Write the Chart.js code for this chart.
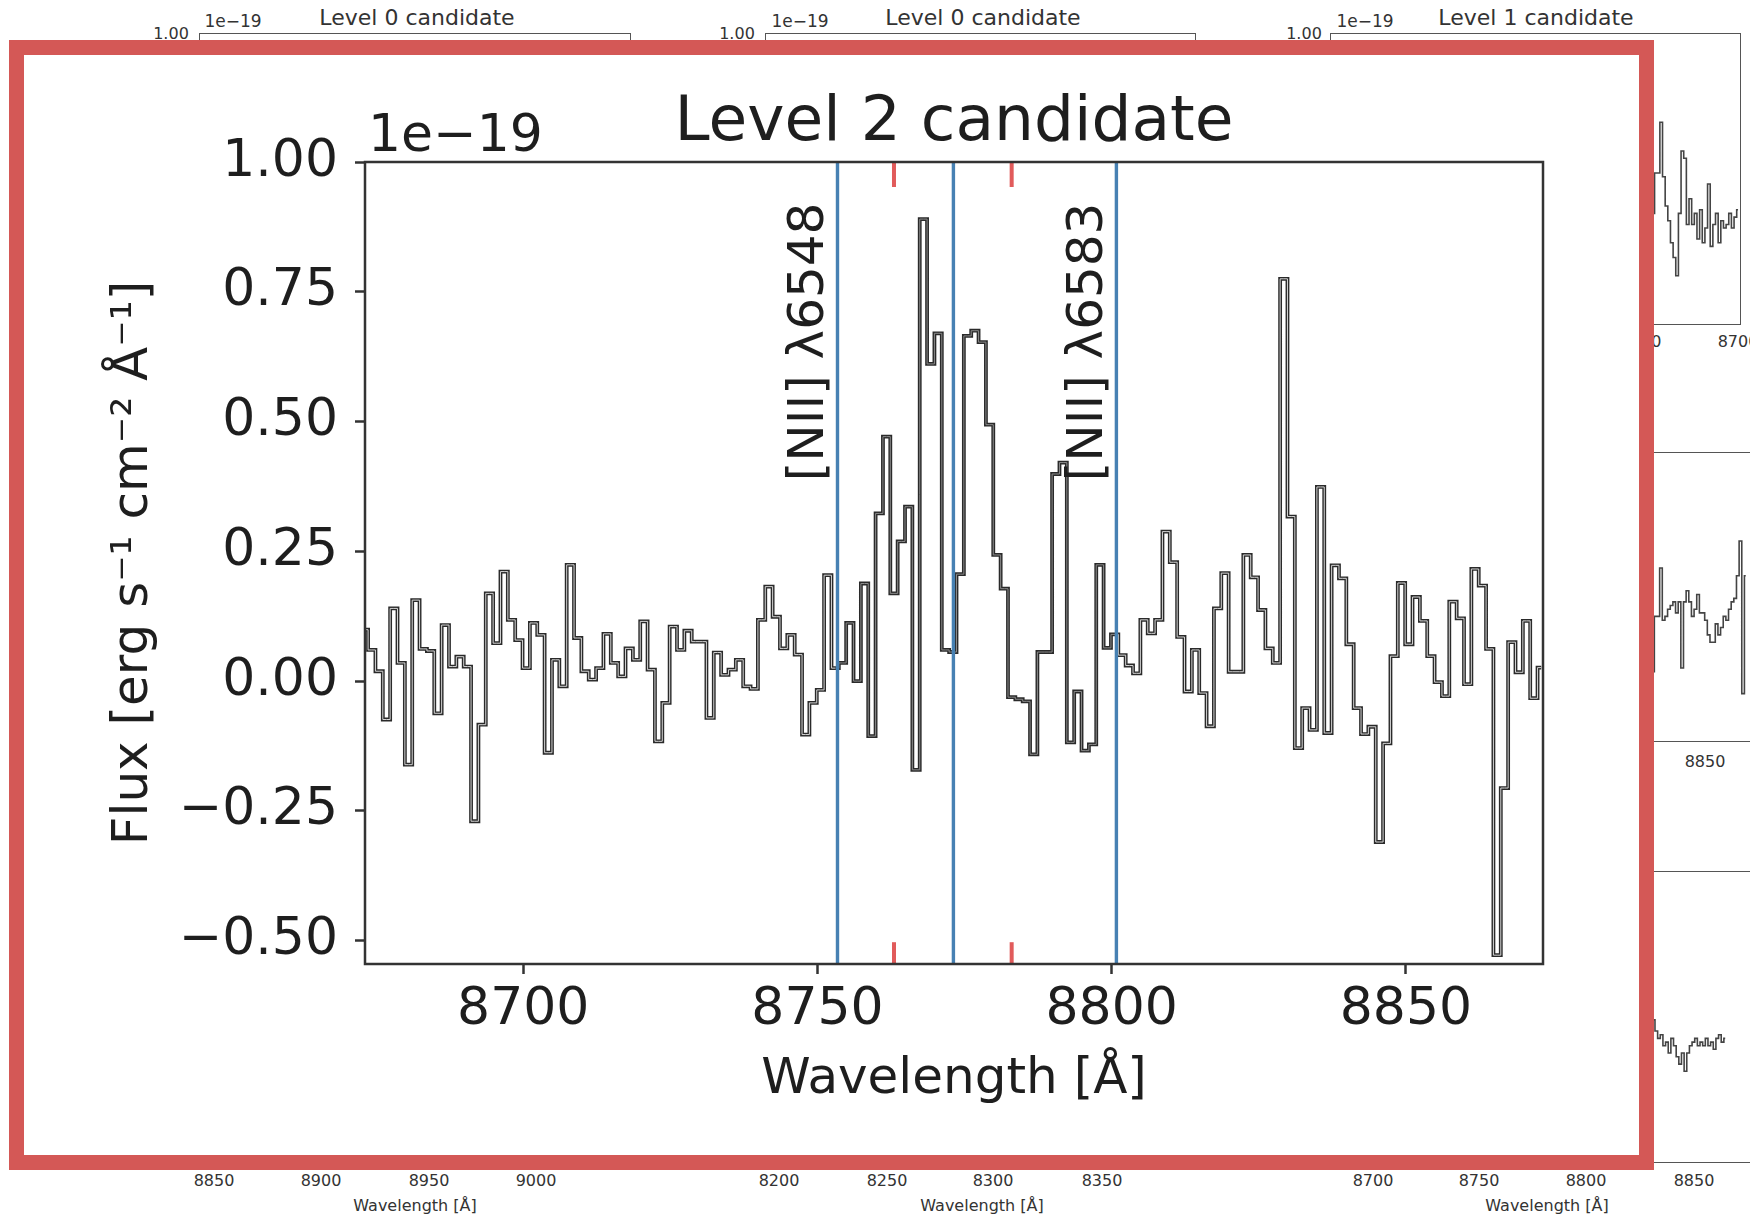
<!DOCTYPE html>
<html>
<head>
<meta charset="utf-8">
<title>Level 2 candidate</title>
<script src="https://cdn.jsdelivr.net/npm/chart.js@4.4.1/dist/chart.umd.min.js"></script>
<style>
  body { margin: 0; width: 1750px; height: 1219px; overflow: hidden; background: #fff;
         position: relative; font-family: "DejaVu Sans", sans-serif; color: #333; }
  .t { position: absolute; white-space: nowrap; transform: translate(-50%, -50%); z-index: 0; }
  .frame { position: absolute; border: 1.5px solid #555; box-sizing: border-box; z-index: 0; }
  .snip { position: absolute; z-index: 0; }
  #box { position: absolute; left: 9px; top: 40px; width: 1645px; height: 1130px;
         border: 15px solid #d45856; box-sizing: border-box; background: #fff; z-index: 1; }
  #c { position: absolute; left: 0; top: 0; z-index: 2; }
</style>
</head>
<body>

<!-- panels of the figure behind the inset -->
<div class="t" style="left:171px;top:33px;font-size:16px">1.00</div>
<div class="t" style="left:233px;top:21px;font-size:17px">1e−19</div>
<div class="t" style="left:417px;top:17px;font-size:22px">Level 0 candidate</div>
<div class="t" style="left:737px;top:33px;font-size:16px">1.00</div>
<div class="t" style="left:800px;top:21px;font-size:17px">1e−19</div>
<div class="t" style="left:983px;top:17px;font-size:22px">Level 0 candidate</div>
<div class="t" style="left:1304px;top:33px;font-size:16px">1.00</div>
<div class="t" style="left:1365px;top:21px;font-size:17px">1e−19</div>
<div class="t" style="left:1536px;top:17px;font-size:22px">Level 1 candidate</div>

<div class="frame" style="left:199px;top:33px;width:432px;height:300px"></div>
<div class="frame" style="left:765px;top:33px;width:431px;height:300px"></div>
<div class="frame" style="left:1330px;top:33px;width:411px;height:292px"></div>
<div class="frame" style="left:1330px;top:452px;width:500px;height:290px"></div>
<div class="frame" style="left:1330px;top:871px;width:500px;height:292px"></div>

<canvas class="snip" id="s1" width="411" height="291" style="left:1330px;top:33px"></canvas>
<canvas class="snip" id="s2" width="500" height="290" style="left:1330px;top:452px"></canvas>
<canvas class="snip" id="s3" width="500" height="292" style="left:1330px;top:871px"></canvas>

<div class="t" style="left:1641px;top:341px;font-size:16px">8650</div>
<div class="t" style="left:1738px;top:341px;font-size:16px">8700</div>
<div class="t" style="left:1705px;top:761px;font-size:16px">8850</div>

<div class="t" style="left:214px;top:1180px;font-size:16px">8850</div>
<div class="t" style="left:321px;top:1180px;font-size:16px">8900</div>
<div class="t" style="left:429px;top:1180px;font-size:16px">8950</div>
<div class="t" style="left:536px;top:1180px;font-size:16px">9000</div>
<div class="t" style="left:415px;top:1205px;font-size:16px">Wavelength [Å]</div>
<div class="t" style="left:779px;top:1180px;font-size:16px">8200</div>
<div class="t" style="left:887px;top:1180px;font-size:16px">8250</div>
<div class="t" style="left:993px;top:1180px;font-size:16px">8300</div>
<div class="t" style="left:1102px;top:1180px;font-size:16px">8350</div>
<div class="t" style="left:982px;top:1205px;font-size:16px">Wavelength [Å]</div>
<div class="t" style="left:1373px;top:1180px;font-size:16px">8700</div>
<div class="t" style="left:1479px;top:1180px;font-size:16px">8750</div>
<div class="t" style="left:1586px;top:1180px;font-size:16px">8800</div>
<div class="t" style="left:1694px;top:1180px;font-size:16px">8850</div>
<div class="t" style="left:1547px;top:1205px;font-size:16px">Wavelength [Å]</div>

<div id="box"></div>
<canvas id="c" width="1750" height="1219"></canvas>

<script>
/* ── main spectrum (flux in units of 1e-19) ── */
const wavelength = [
  8673.00, 8674.25, 8675.50, 8676.75, 8678.00, 8679.25, 8680.50, 8681.75,
  8683.00, 8684.25, 8685.50, 8686.75, 8688.00, 8689.25, 8690.50, 8691.75,
  8693.00, 8694.25, 8695.50, 8696.75, 8698.00, 8699.25, 8700.50, 8701.75,
  8703.00, 8704.25, 8705.50, 8706.75, 8708.00, 8709.25, 8710.50, 8711.75,
  8713.00, 8714.25, 8715.50, 8716.75, 8718.00, 8719.25, 8720.50, 8721.75,
  8723.00, 8724.25, 8725.50, 8726.75, 8728.00, 8729.25, 8730.50, 8731.75,
  8733.00, 8734.25, 8735.50, 8736.75, 8738.00, 8739.25, 8740.50, 8741.75,
  8743.00, 8744.25, 8745.50, 8746.75, 8748.00, 8749.25, 8750.50, 8751.75,
  8753.00, 8754.25, 8755.50, 8756.75, 8758.00, 8759.25, 8760.50, 8761.75,
  8763.00, 8764.25, 8765.50, 8766.75, 8768.00, 8769.25, 8770.50, 8771.75,
  8773.00, 8774.25, 8775.50, 8776.75, 8778.00, 8779.25, 8780.50, 8781.75,
  8783.00, 8784.25, 8785.50, 8786.75, 8788.00, 8789.25, 8790.50, 8791.75,
  8793.00, 8794.25, 8795.50, 8796.75, 8798.00, 8799.25, 8800.50, 8801.75,
  8803.00, 8804.25, 8805.50, 8806.75, 8808.00, 8809.25, 8810.50, 8811.75,
  8813.00, 8814.25, 8815.50, 8816.75, 8818.00, 8819.25, 8820.50, 8821.75,
  8823.00, 8824.25, 8825.50, 8826.75, 8828.00, 8829.25, 8830.50, 8831.75,
  8833.00, 8834.25, 8835.50, 8836.75, 8838.00, 8839.25, 8840.50, 8841.75,
  8843.00, 8844.25, 8845.50, 8846.75, 8848.00, 8849.25, 8850.50, 8851.75,
  8853.00, 8854.25, 8855.50, 8856.75, 8858.00, 8859.25, 8860.50, 8861.75,
  8863.00, 8864.25, 8865.50, 8866.75, 8868.00, 8869.25, 8870.50, 8871.75,
  8873.00
];
const flux = [
   0.099,  0.060,  0.019, -0.074,  0.140,  0.035, -0.161,  0.156,
   0.062,  0.058, -0.062,  0.108,  0.028,  0.047,  0.028, -0.270,
  -0.084,  0.169,  0.073,  0.211,  0.118,  0.079,  0.025,  0.112,
   0.089, -0.138,  0.041, -0.010,  0.224,  0.083,  0.019,  0.003,
   0.025,  0.091,  0.035,  0.009,  0.063,  0.041,  0.115,  0.022,
  -0.116, -0.042,  0.105,  0.060,  0.097,  0.076,  0.076, -0.071,
   0.055,  0.012,  0.022,  0.041, -0.010, -0.015,  0.118,  0.182,
   0.124,  0.063,  0.089,  0.051, -0.103, -0.042, -0.017,  0.204,
   0.025,  0.035,  0.112,  0.000,  0.188, -0.106,  0.323,  0.471,
   0.169,  0.269,  0.336, -0.171,  0.890,  0.611,  0.670,  0.060,
   0.056,  0.206,  0.665,  0.675,  0.653,  0.494,  0.243,  0.178,
  -0.031, -0.035, -0.039, -0.141,  0.056,  0.056,  0.399,  0.421,
  -0.118, -0.020, -0.134, -0.122,  0.224,  0.064,  0.090,  0.050,
   0.030,  0.015,  0.118,  0.092,  0.118,  0.288,  0.229,  0.085,
  -0.020,  0.060, -0.023, -0.087,  0.140,  0.208,  0.018,  0.018,
   0.243,  0.200,  0.137,  0.063,  0.035,  0.775,  0.317, -0.129,
  -0.052, -0.094,  0.374, -0.100,  0.223,  0.198,  0.071, -0.052,
  -0.102, -0.088, -0.310, -0.120,  0.048,  0.189,  0.071,  0.162,
   0.116,  0.048, -0.002, -0.029,  0.153,  0.121, -0.006,  0.216,
   0.184,  0.062, -0.528, -0.206,  0.075,  0.017,  0.116, -0.033,
   0.026
];

const lineWaves  = [8753.4, 8773.1, 8800.8];   // blue markers
const lineLabels = ['[NII] λ6548', '', '[NII] λ6583'];
const windowWaves = [8763.0, 8783.0];          // red ticks top/bottom
const xTicks = [8700, 8750, 8800, 8850];
const yTicks = [-0.50, -0.25, 0.00, 0.25, 0.50, 0.75, 1.00];
const xRange = [8673.1, 8873.3];
const yRange = [-0.545, 1.00];

/* ── bits of the neighbouring panels that show right of the inset ── */
const s1Wave = [
  8660.00, 8661.25, 8662.50, 8663.75, 8665.00, 8666.25, 8667.50, 8668.75,
  8670.00, 8671.25, 8672.50, 8673.75, 8675.00, 8676.25, 8677.50, 8678.75,
  8680.00, 8681.25, 8682.50, 8683.75, 8685.00, 8686.25, 8687.50, 8688.75,
  8690.00, 8691.25, 8692.50, 8693.75, 8695.00, 8696.25, 8697.50, 8698.75,
  8700.00
];
const s1Flux = [
   0.070,  0.278,  0.278,  0.540,  0.259,  0.108,  0.032, -0.081,
  -0.157, -0.251,  0.070,  0.392,  0.354,  0.013,  0.146,  0.013,
   0.070, -0.062,  0.089, -0.081, -0.005,  0.222, -0.100,  0.013,
   0.070, -0.081,  0.032, -0.005,  0.013,  0.070, -0.005,  0.051,
   0.089
];
const s2Wave = [
  8825.50, 8826.75, 8828.00, 8829.25, 8830.50, 8831.75, 8833.00, 8834.25,
  8835.50, 8836.75, 8838.00, 8839.25, 8840.50, 8841.75, 8843.00, 8844.25,
  8845.50, 8846.75, 8848.00, 8849.25, 8850.50, 8851.75, 8853.00, 8854.25,
  8855.50, 8856.75, 8858.00, 8859.25, 8860.50, 8861.75, 8863.00, 8864.25,
  8865.50, 8866.75, 8868.00, 8869.25
];
const s2Flux = [
  -0.136,  0.150,  0.150,  0.400,  0.130,  0.150,  0.187,  0.206,
   0.225,  0.168,  0.225, -0.117,  0.225,  0.282,  0.225,  0.150,
   0.187,  0.263,  0.168,  0.168,  0.130,  0.054,  0.016,  0.016,
   0.111,  0.054,  0.092,  0.150,  0.130,  0.187,  0.225,  0.243,
   0.360,  0.540, -0.250,  0.360
];
const s3Wave = [
  8831.00, 8832.25, 8833.50, 8834.75, 8836.00, 8837.25, 8838.50, 8839.75,
  8841.00, 8842.25, 8843.50, 8844.75, 8846.00, 8847.25, 8848.50, 8849.75,
  8851.00, 8852.25, 8853.50, 8854.75, 8856.00, 8857.25, 8858.50, 8859.75,
  8861.00, 8862.25, 8863.50, 8864.75
];
const s3Flux = [
   0.235,  0.178,  0.140,  0.159,  0.102,  0.121,  0.065,  0.140,
   0.102,  0.046,  0.008,  0.065, -0.029,  0.065,  0.102,  0.121,
   0.140,  0.102,  0.121,  0.102,  0.140,  0.102,  0.121,  0.084,
   0.140,  0.159,  0.121,  0.140
];
const snipRanges = [[8507.5, 8701.4], [8673.1, 8909.0], [8678.3, 8914.2]];

/* ── helpers ─────────────────────────────────────────────────── */
const FONT = '"DejaVu Sans", "Liberation Sans", sans-serif';
const INK  = '#1e1e1e';
const pts  = wavelength.map((w, i) => ({ x: w, y: flux[i] }));
const inWindow = x => x >= lineWaves[0] && x <= lineWaves[2];

function vline(x, y0, y1, color, width, order) {
  return {
    type: 'line', data: [{ x, y: y0 }, { x, y: y1 }],
    borderColor: color, borderWidth: width, pointRadius: 0,
    fill: false, order, clip: 0
  };
}

const datasets = [
  {
    label: 'flux outline', data: pts, stepped: 'middle',
    borderColor: '#2a2a2a', borderWidth: 3.8, pointRadius: 0, order: 5, clip: 0
  },
  {
    label: 'flux core', data: pts, stepped: 'middle',
    borderColor: '#d4d4d4', borderWidth: 1.0, pointRadius: 0, order: 4, clip: 0,
    segment: {
      borderColor: ctx => inWindow((ctx.p0.parsed.x + ctx.p1.parsed.x) / 2) ? '#8a8a8a' : '#d4d4d4'
    }
  }
];
lineWaves.forEach(w => datasets.push(vline(w, yRange[0], yRange[1], '#4781b3', 3.4, 2)));
windowWaves.forEach(w => {
  datasets.push(vline(w, yRange[1], 0.952, '#e15b5b', 4, 1));
  datasets.push(vline(w, yRange[0], -0.503, '#e15b5b', 4, 1));
});

/* ── frame, title, offset text and line names ───────────────────── */
const decor = {
  id: 'decor',
  afterDatasetsDraw(chart) {
    const { ctx, chartArea: a, scales: { x, y } } = chart;
    ctx.save();
    ctx.strokeStyle = '#333';
    ctx.lineWidth = 2.5;
    ctx.strokeRect(a.left, a.top, a.right - a.left, a.bottom - a.top);

    ctx.fillStyle = INK;
    ctx.textBaseline = 'alphabetic';
    ctx.font = `63px ${FONT}`;
    ctx.textAlign = 'center';
    ctx.fillText('Level 2 candidate', (a.left + a.right) / 2, a.top - 22);

    ctx.font = `52px ${FONT}`;
    ctx.textAlign = 'left';
    ctx.fillText('1e−19', a.left + 3, a.top - 11);

    ctx.font = `50px ${FONT}`;
    lineWaves.forEach((w, i) => {
      if (!lineLabels[i]) return;
      ctx.save();
      ctx.translate(x.getPixelForValue(w) - 2, y.getPixelForValue(0.385));
      ctx.rotate(-Math.PI / 2);
      ctx.textAlign = 'left';
      ctx.textBaseline = 'bottom';
      ctx.fillText(lineLabels[i], 0, 0);
      ctx.restore();
    });
    ctx.restore();
  }
};

const fmtTick = v => v.toFixed(2).replace('-', '−');

new Chart(document.getElementById('c').getContext('2d'), {
  type: 'line',
  data: { datasets },
  options: {
    responsive: false,
    animation: false,
    devicePixelRatio: 1,
    layout: { padding: { left: 0, top: 162, right: 207, bottom: 0 } },
    plugins: { legend: { display: false }, tooltip: { enabled: false } },
    scales: {
      x: {
        type: 'linear', min: xRange[0], max: xRange[1],
        afterFit: s => { s.height = 255; },
        afterBuildTicks: s => { s.ticks = xTicks.map(v => ({ value: v })); },
        grid: { display: true, drawOnChartArea: false, drawTicks: true, tickLength: 10,
                tickColor: '#333', tickWidth: 2.5 },
        border: { display: false },
        ticks: { color: INK, font: { family: FONT, size: 52 }, padding: 5,
                 maxRotation: 0, autoSkip: false, callback: v => String(v) },
        title: { display: true, text: 'Wavelength [Å]', color: INK,
                 font: { family: FONT, size: 50 }, padding: { top: 0, bottom: 109 } }
      },
      y: {
        type: 'linear', min: yRange[0], max: yRange[1],
        afterFit: s => { s.width = 365; },
        afterBuildTicks: s => { s.ticks = yTicks.map(v => ({ value: v })); },
        grid: { display: true, drawOnChartArea: false, drawTicks: true, tickLength: 10,
                tickColor: '#333', tickWidth: 2.5 },
        border: { display: false },
        ticks: { color: INK, font: { family: FONT, size: 52 }, padding: 17,
                 callback: v => fmtTick(v) },
        title: { display: true, text: 'Flux [erg s⁻¹ cm⁻² Å⁻¹]', color: INK,
                 font: { family: FONT, size: 50 }, padding: { top: 104, bottom: 0 } }
      }
    }
  },
  plugins: [decor]
});

/* ── the small background panels ──────────────────────────────── */
function drawSnippet(id, waves, vals, range) {
  new Chart(document.getElementById(id).getContext('2d'), {
    type: 'line',
    data: { datasets: [{
      data: waves.map((w, i) => ({ x: w, y: vals[i] })),
      stepped: 'middle', borderColor: '#444', borderWidth: 1.6, pointRadius: 0
    }] },
    options: {
      responsive: false, animation: false, devicePixelRatio: 1,
      layout: { padding: 0 },
      plugins: { legend: { display: false }, tooltip: { enabled: false } },
      scales: {
        x: { type: 'linear', display: false, min: range[0], max: range[1] },
        y: { type: 'linear', display: false, min: -0.5, max: 1.0 }
      }
    }
  });
}
drawSnippet('s1', s1Wave, s1Flux, snipRanges[0]);
drawSnippet('s2', s2Wave, s2Flux, snipRanges[1]);
drawSnippet('s3', s3Wave, s3Flux, snipRanges[2]);
</script>
</body>
</html>
